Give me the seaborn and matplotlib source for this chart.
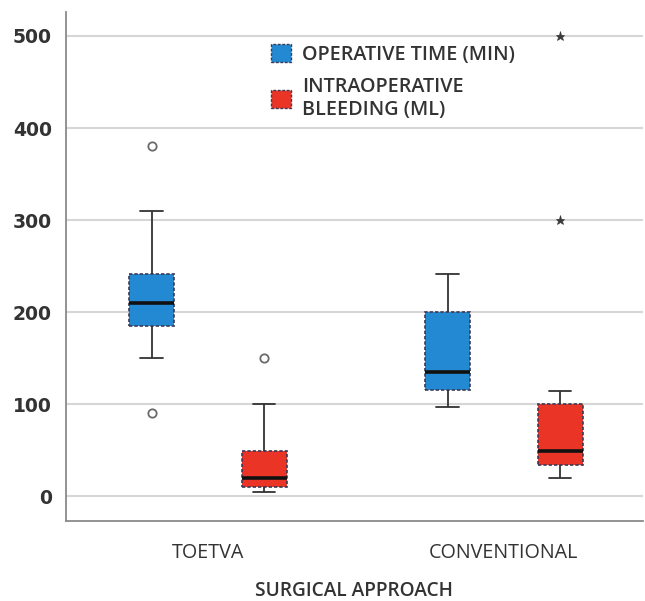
import numpy as np
import pandas as pd
import matplotlib.pyplot as plt
import seaborn as sns
from matplotlib.patches import Patch

# values (estimated)
approaches = ["TOETVA", "CONVENTIONAL"]
measures = ["OPERATIVE TIME (MIN)", "INTRAOPERATIVE\nBLEEDING (ML)"]
colors = ["#2389d3", "#ea3526"]

toetva_time = [90, 150, 185, 200, 210, 225, 241, 310, 380]
toetva_bleed = [5, 8, 10, 15, 20, 30, 49, 100, 150]
conv_time = [97, 105, 115, 125, 135, 160, 200, 220, 241]
conv_bleed = [20, 25, 30, 34, 40, 45, 49, 60, 80, 100, 114, 300, 500]

groups = {
    ("TOETVA", measures[0]): toetva_time,
    ("TOETVA", measures[1]): toetva_bleed,
    ("CONVENTIONAL", measures[0]): conv_time,
    ("CONVENTIONAL", measures[1]): conv_bleed,
}
rows = []
for (appr, meas), vals in groups.items():
    for v in vals:
        rows.append({"approach": appr, "measure": meas, "value": v})
df = pd.DataFrame(rows)

sns.set_style("white")
plt.rcParams["font.family"] = ["Open Sans", "DejaVu Sans"]

fig = plt.figure(figsize=(6.45, 6.01), dpi=100)
ax = fig.add_axes([0.102, 0.133, 0.895, 0.847])

sns.boxplot(data=df, x="approach", y="value", hue="measure",
            order=approaches, hue_order=measures, palette=colors, saturation=1,
            width=0.76, gap=0.6, linewidth=1.2, linecolor="#333333",
            whis=1.5, legend=False, ax=ax,
            boxprops=dict(linestyle=(0, (2, 1.2)), edgecolor="#3a3a55"),
            medianprops=dict(color="#111111", linewidth=2.6),
            whiskerprops=dict(color="#333333", linewidth=1.3),
            capprops=dict(color="#333333", linewidth=1.3),
            flierprops=dict(marker="o", markersize=6, markerfacecolor="none",
                            markeredgecolor="#6a6a6a", markeredgewidth=1.3))

# SPSS marks extreme outliers (beyond 3 IQR) with stars
extremes = []
for vals in groups.values():
    q1, q3 = np.percentile(vals, [25, 75])
    ext = sorted(v for v in vals if v > q3 + 3 * (q3 - q1) or v < q1 - 3 * (q3 - q1))
    if ext:
        extremes.append(ext)
for line in ax.lines:
    if line.get_marker() == "o":
        yd = sorted(np.asarray(line.get_ydata()).tolist())
        if yd in extremes:
            line.set_marker("*")
            line.set_markersize(6.5)
            line.set_markerfacecolor("#3a3a3a")
            line.set_markeredgecolor("#3a3a3a")
            line.set_markeredgewidth(0.5)

ax.set_xlim(-0.48, 1.47)
ax.set_ylim(-27, 526)
ax.set_yticks([0, 100, 200, 300, 400, 500])
ax.yaxis.grid(True, color="#d6d6d6", linewidth=1.5)
ax.set_axisbelow(True)
for s in ["top", "right"]:
    ax.spines[s].set_visible(False)
for s in ["left", "bottom"]:
    ax.spines[s].set_color("#8a8a8a")
    ax.spines[s].set_linewidth(1.3)
ax.tick_params(axis="y", length=0, pad=10, labelcolor="#333333")
ax.tick_params(axis="x", length=0, pad=16, labelsize=14.2, labelcolor="#333333")
for t in ax.get_yticklabels():
    t.set_fontfamily("DejaVu Sans")
    t.set_fontweight("bold")
    t.set_fontsize(13.5)
ax.set_ylabel("")
ax.set_xlabel("SURGICAL APPROACH", fontsize=13.8, fontweight="semibold",
              color="#333333", labelpad=13)

handles = [Patch(facecolor=c, edgecolor="#3a3a55", linestyle=(0, (2, 1.2)),
                 linewidth=1.0) for c in colors]
ax.legend(handles, measures, loc="upper left", bbox_to_anchor=(0.325, 0.972),
          frameon=False, prop={"size": 14.2, "weight": "semibold"},
          handlelength=1.0, handleheight=1.0,
          handletextpad=0.55, labelspacing=0.62, labelcolor="#333333")

fig.savefig("out.png", dpi=100)
